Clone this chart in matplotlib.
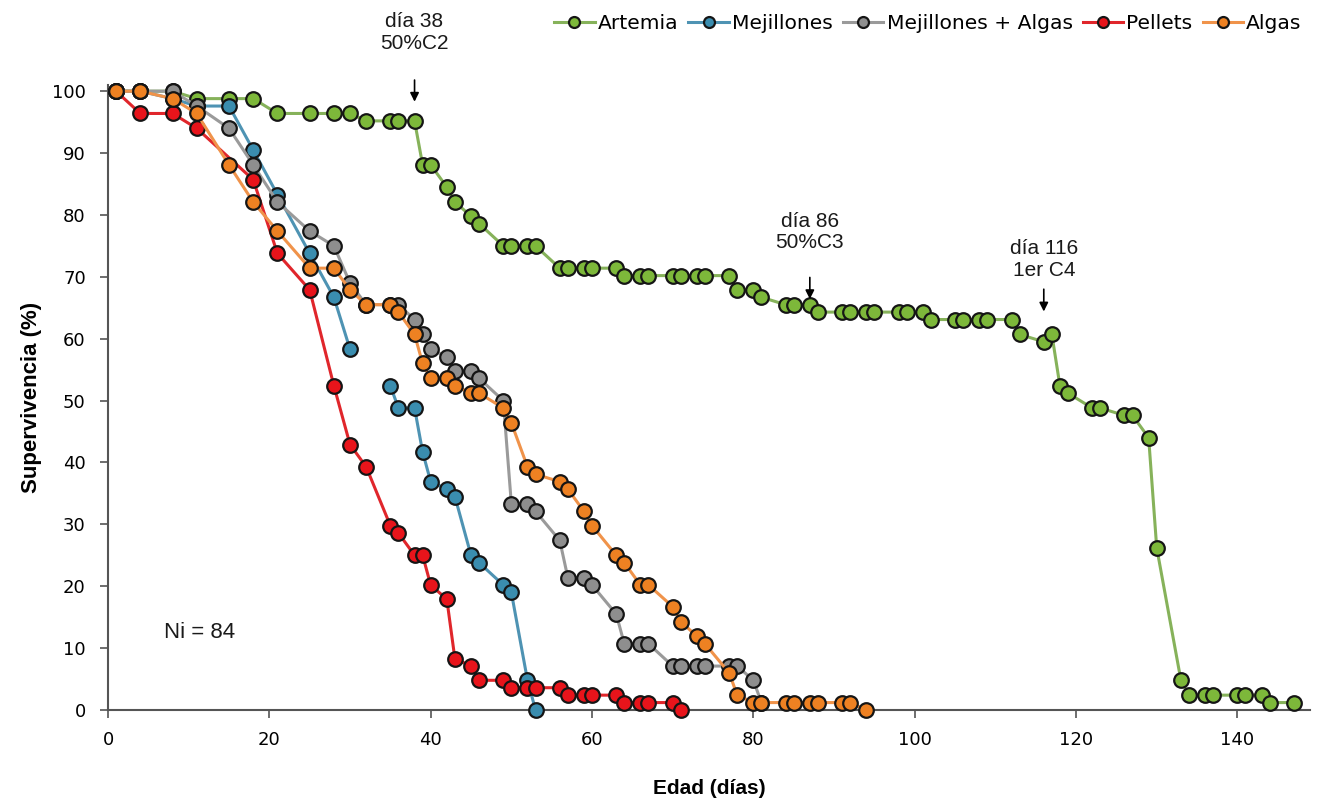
import numpy as np
import matplotlib
matplotlib.use("Agg")
import matplotlib.pyplot as plt

# ---------------- data (survival %, Ni = 84) ----------------
artemia_days = [1, 4, 8, 11, 15, 18, 21, 25, 28, 30, 32, 35, 36, 38, 39, 40, 42, 43, 45, 46,
                49, 50, 52, 53, 56, 57, 59, 60, 63, 64, 66, 67, 70, 71, 73, 74, 77, 78, 80, 81,
                84, 85, 87, 88, 91, 92, 94, 95, 98, 99, 101, 102, 105, 106, 108, 109, 112, 113,
                116, 117, 118, 119, 122, 123, 126, 127, 129, 130, 133, 134, 136, 137, 140, 141,
                143, 144, 147]
artemia_surv = [100, 100, 100, 98.8, 98.8, 98.8, 96.4, 96.4, 96.4, 96.4, 95.2, 95.2, 95.2, 95.2,
                88.1, 88.1, 84.5, 82.1, 79.8, 78.6, 75.0, 75.0, 75.0, 75.0, 71.4, 71.4, 71.4, 71.4,
                71.4, 70.2, 70.2, 70.2, 70.2, 70.2, 70.2, 70.2, 70.2, 67.9, 67.9, 66.7, 65.5, 65.5,
                65.5, 64.3, 64.3, 64.3, 64.3, 64.3, 64.3, 64.3, 64.3, 63.1, 63.1, 63.1, 63.1, 63.1,
                63.1, 60.7, 59.5, 60.7, 52.4, 51.2, 48.8, 48.8, 47.6, 47.6, 44.0, 26.2, 4.8, 2.4,
                2.4, 2.4, 2.4, 2.4, 2.4, 1.2, 1.2]

mejillones_days = [1, 4, 8, 11, 15, 18, 21, 25, 28, 30, 33, 35, 36, 38, 39, 40, 42, 43, 45, 46,
                   49, 50, 52, 53]
mejillones_surv = [100, 100, 98.8, 97.6, 97.6, 90.5, 83.3, 73.8, 66.7, 58.3, np.nan, 52.4, 48.8,
                   48.8, 41.7, 36.9, 35.7, 34.5, 25.0, 23.8, 20.2, 19.0, 4.8, 0.0]

mej_algas_days = [1, 4, 8, 11, 15, 18, 21, 25, 28, 30, 32, 35, 36, 38, 39, 40, 42, 43, 45, 46,
                  49, 50, 52, 53, 56, 57, 59, 60, 63, 64, 66, 67, 70, 71, 73, 74, 77, 78, 80, 81]
mej_algas_surv = [100, 100, 100, 97.6, 94.0, 88.1, 82.1, 77.4, 75.0, 69.0, 65.5, 65.5, 65.5,
                  63.1, 60.7, 58.3, 57.1, 54.8, 54.8, 53.6, 50.0, 33.3, 33.3, 32.1, 27.4, 21.4,
                  21.4, 20.2, 15.5, 10.7, 10.7, 10.7, 7.1, 7.1, 7.1, 7.1, 7.1, 7.1, 4.8, 1.2]

pellets_days = [1, 4, 8, 11, 18, 21, 25, 28, 30, 32, 35, 36, 38, 39, 40, 42, 43, 45, 46, 49, 50,
                52, 53, 56, 57, 59, 60, 63, 64, 66, 67, 70, 71]
pellets_surv = [100, 96.4, 96.4, 94.0, 85.7, 73.8, 67.9, 52.4, 42.9, 39.3, 29.8, 28.6, 25.0,
                25.0, 20.2, 17.9, 8.3, 7.1, 4.8, 4.8, 3.6, 3.6, 3.6, 3.6, 2.4, 2.4, 2.4, 2.4, 1.2,
                1.2, 1.2, 1.2, 0.0]

algas_days = [1, 4, 8, 11, 15, 18, 21, 25, 28, 30, 32, 35, 36, 38, 39, 40, 42, 43, 45, 46, 49,
              50, 52, 53, 56, 57, 59, 60, 63, 64, 66, 67, 70, 71, 73, 74, 77, 78, 80, 81, 84, 85,
              87, 88, 91, 92, 94]
algas_surv = [100, 100, 98.8, 96.4, 88.1, 82.1, 77.4, 71.4, 71.4, 67.9, 65.5, 65.5, 64.3, 60.7,
              56.0, 53.6, 53.6, 52.4, 51.2, 51.2, 48.8, 46.4, 39.3, 38.1, 36.9, 35.7, 32.1, 29.8,
              25.0, 23.8, 20.2, 20.2, 16.7, 14.3, 11.9, 10.7, 6.0, 2.4, 1.2, 1.2, 1.2, 1.2, 1.2,
              1.2, 1.2, 1.2, 0.0]

series_names = ["Artemia", "Mejillones", "Mejillones + Algas", "Pellets", "Algas"]
x_ticks = [0, 20, 40, 60, 80, 100, 120, 140]
y_ticks = [0, 10, 20, 30, 40, 50, 60, 70, 80, 90, 100]

# ---------------- styling ----------------
fills = ["#7DB83A", "#3A8DAF", "#8E8E8E", "#E8141B", "#EE8122"]
lines = ["#86B25A", "#4E93B3", "#9A9A9A", "#E0262B", "#F0934A"]

plt.rcParams['font.family'] = ['Liberation Sans', 'DejaVu Sans']

fig = plt.figure(figsize=(13.17, 8.07), dpi=100)
ax = fig.add_axes([108 / 1317, 1 - 710 / 807, (1310 - 108) / 1317, (710 - 85) / 807])

data = [(artemia_days, artemia_surv), (mejillones_days, mejillones_surv),
        (mej_algas_days, mej_algas_surv), (pellets_days, pellets_surv),
        (algas_days, algas_surv)]

handles = []
for (d, s), name, fc, lc in zip(data, series_names, fills, lines):
    h, = ax.plot(d, s, '-', color=lc, lw=2.2, marker='o', markersize=10.5,
                 markerfacecolor=fc, markeredgecolor='#151515', markeredgewidth=1.6,
                 label=name, clip_on=False, zorder=3)
    handles.append(h)

ax.set_xlim(0, 149)
ax.set_ylim(0, 101)
ax.set_xticks(x_ticks)
ax.set_yticks(y_ticks)
ax.tick_params(axis='both', length=6, width=1.2, color='#555555')
ax.tick_params(axis='x', pad=9)
ax.tick_params(axis='y', pad=10)
for lab in ax.get_xticklabels() + ax.get_yticklabels():
    lab.set_family('DejaVu Sans')
    lab.set_fontsize(13)
for side in ['top', 'right']:
    ax.spines[side].set_visible(False)
for side in ['left', 'bottom']:
    ax.spines[side].set_color('#555555')
    ax.spines[side].set_linewidth(1.5)

ax.set_ylabel("Supervivencia (%)", fontsize=16, fontweight='bold', labelpad=7)
ax.set_xlabel("Edad (días)", fontsize=15, fontweight='bold', labelpad=22)

# annotations
ann = [(38, "día 38\n50%C2", 109.5, 101.8, 98.3),
       (87, "día 86\n50%C3", 77.2, 69.9, 66.4),
       (116, "día 116\n1er C4", 72.8, 68.0, 64.4)]
for xd, txt, ty, a0, a1 in ann:
    ax.text(xd, ty, txt, ha='center', va='center', fontsize=15, linespacing=1.15,
            color='#1a1a1a', clip_on=False)
    ax.annotate('', xy=(xd, a1), xytext=(xd, a0), annotation_clip=False,
                arrowprops=dict(arrowstyle='-|>', color='black', lw=1.2,
                                mutation_scale=13, shrinkA=0, shrinkB=0))

ax.text(7.0, 12.6, "Ni = 84", ha='left', va='center', fontsize=16, color='#1a1a1a')

fig.legend(handles=handles, labels=series_names, loc='upper right',
           bbox_to_anchor=(0.999, 1.0), ncol=5, frameon=False,
           handlelength=2.0, handletextpad=0.15, columnspacing=0.5, borderaxespad=0.3,
           markerscale=0.75, prop={'family': 'DejaVu Sans', 'size': 14.6})

fig.savefig("out.png", dpi=100)
